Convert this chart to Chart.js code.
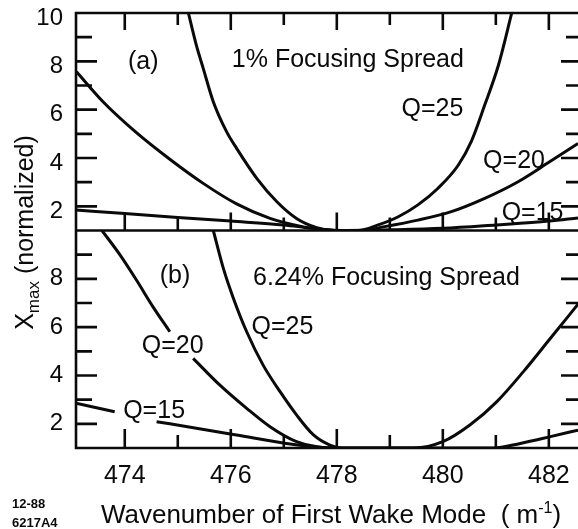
<!DOCTYPE html>
<html>
<head>
<meta charset="utf-8">
<script src="https://cdn.jsdelivr.net/npm/chart.js@4.4.0/dist/chart.umd.min.js"></script>
<style>
    html, body { margin: 0; padding: 0; background: #fff; }
</style>
</head>
<body>
<canvas id="myChart" width="578" height="529"></canvas>
<script>
// axis ranges and tick labels
var xMin = 473.08, xMax = 482.55;
var xTickValues = [474, 476, 478, 480, 482];
var yMin = 1, yMax = 10;
var yTicksA = [2, 4, 6, 8, 10];
var yTicksB = [2, 4, 6, 8];

// (a) 1% focusing spread -- wavenumber (1/m) and Xmax (normalized)
var a15Wave = [473.08, 474.0, 475.0, 476.0, 477.0, 477.5, 478.0, 479.0, 480.0, 481.0, 482.0, 482.55];
var a15Xmax = [1.85, 1.70, 1.54, 1.39, 1.23, 1.10, 1.00, 1.03, 1.09, 1.23, 1.39, 1.52];

var a20Wave = [473.09, 473.59, 474.22, 474.85, 475.48, 476.11, 476.74, 477.37, 477.75, 478.10, 478.46, 478.90, 479.53, 480.16, 480.79, 481.42, 482.00, 482.55];
var a20Xmax = [7.57, 6.33, 5.05, 3.95, 2.95, 2.10, 1.50, 1.15, 1.04, 1.00, 1.00, 1.16, 1.43, 1.78, 2.33, 3.02, 3.82, 4.60];

var a25Wave = [475.20, 475.35, 475.48, 475.67, 475.92, 476.11, 476.49, 476.87, 477.24, 477.62, 477.95, 478.40, 478.78, 479.16, 479.53, 479.91, 480.29, 480.54, 480.79, 481.05, 481.30];
var a25Xmax = [10.0, 8.67, 7.71, 6.33, 5.09, 4.40, 3.16, 2.19, 1.50, 1.12, 1.00, 1.00, 1.23, 1.57, 2.06, 2.75, 3.70, 4.70, 6.19, 7.85, 10.0];

// (b) 6.24% focusing spread (null = break in the line under a label)
var b15Wave = [473.08, 473.81, 474.20, 474.60, 475.35, 476.11, 477.05, 477.68, 478.00];
var b15Xmax = [2.85, 2.50, null, 2.09, 1.82, 1.54, 1.19, 1.03, 1.00];

var b20Wave = [473.57, 473.91, 474.22, 474.53, 474.85, 475.07, 475.29, 475.79, 476.30, 476.74, 477.24, 477.62, 477.90, 480.95, 481.46, 482.03, 482.55];
var b20Xmax = [10.0, 8.99, 7.95, 6.85, 5.81, null, 4.71, 3.61, 2.64, 1.88, 1.26, 1.05, 1.00, 1.00, 1.19, 1.47, 1.74];

var b25Wave = [475.67, 475.86, 476.05, 476.30, 476.61, 476.93, 477.24, 477.56, 477.87, 478.10, 479.45, 480.00, 480.51, 481.02, 481.52, 482.03, 482.55];
var b25Xmax = [10.0, 8.43, 7.19, 5.81, 4.43, 3.33, 2.37, 1.54, 1.12, 1.00, 1.00, 1.26, 1.95, 2.92, 4.16, 5.54, 6.95];

// text inside the panels, placed in data units
var notes = [
    { text: '(a)', wave: 474.06, xmax: 7.68, axis: 'yA' },
    { text: '1% Focusing Spread', wave: 476.02, xmax: 7.78, axis: 'yA' },
    { text: 'Q=25', wave: 479.22, xmax: 5.74, axis: 'yA' },
    { text: 'Q=20', wave: 480.76, xmax: 3.57, axis: 'yA' },
    { text: 'Q=15', wave: 481.11, xmax: 1.43, axis: 'yA' },
    { text: '(b)', wave: 474.66, xmax: 7.83, axis: 'yB' },
    { text: '6.24% Focusing Spread', wave: 476.42, xmax: 7.74, axis: 'yB' },
    { text: 'Q=25', wave: 476.39, xmax: 5.72, axis: 'yB' },
    { text: 'Q=20', wave: 474.32, xmax: 4.92, axis: 'yB' },
    { text: 'Q=15', wave: 473.97, xmax: 2.23, axis: 'yB' }
];

var FONT = '"Liberation Sans", Arial, Helvetica, sans-serif';
var INK = '#0a0a0a';

function toPoints(waves, vals) {
    return waves.map(function (w, i) { return { x: w, y: vals[i] }; });
}

function curve(label, waves, vals, axis) {
    return {
        label: label,
        data: toPoints(waves, vals),
        yAxisID: axis,
        borderColor: INK,
        borderWidth: 3,
        pointRadius: 0,
        cubicInterpolationMode: 'monotone',
        spanGaps: false,
        fill: false
    };
}

// label overhang would push the plot area around, so drop it
function noPadding(s) {
    s.paddingTop = 0; s.paddingBottom = 0; s.paddingLeft = 0; s.paddingRight = 0;
}

function yAxis(tickValues, offset) {
    return {
        type: 'linear',
        position: 'left',
        stack: 'panels',
        stackWeight: 1,
        min: yMin,
        max: yMax,
        grid: { display: false, drawTicks: false },
        border: { display: false },
        ticks: { font: { family: FONT, size: 24 }, color: INK, padding: 13, labelOffset: offset },
        afterBuildTicks: function (s) { s.ticks = tickValues.map(function (v) { return { value: v }; }); },
        afterFit: function (s) { s.width = 76; noPadding(s); }
    };
}

// frame, inward ticks, labels and axis titles
var framePlugin = {
    id: 'frame',
    afterDatasetsDraw: function (chart) {
        var ctx = chart.ctx;
        var x = chart.scales.x, ya = chart.scales.yA, yb = chart.scales.yB;
        var left = chart.chartArea.left, right = chart.chartArea.right;

        ctx.save();
        ctx.strokeStyle = INK;
        ctx.lineWidth = 2.6;
        ctx.beginPath();
        ctx.moveTo(left, ya.top - 1.3); ctx.lineTo(left, yb.bottom + 1.3);
        ctx.moveTo(left, ya.top); ctx.lineTo(right, ya.top);
        ctx.moveTo(left, ya.bottom); ctx.lineTo(right, ya.bottom);
        ctx.moveTo(left, yb.bottom); ctx.lineTo(right, yb.bottom);

        // x ticks: down from the top, up from each panel bottom
        for (var k = 474; k <= 482; k++) {
            var px = x.getPixelForValue(k);
            var major = k % 2 === 0;
            ctx.moveTo(px, ya.top); ctx.lineTo(px, ya.top + (major ? 17 : 12));
            ctx.moveTo(px, ya.bottom); ctx.lineTo(px, ya.bottom - (major ? 18 : 13));
            ctx.moveTo(px, yb.bottom); ctx.lineTo(px, yb.bottom - (major ? 19 : 13));
        }
        // y ticks on both sides of each panel
        [ya, yb].forEach(function (s) {
            for (var v = 2; v <= 9; v++) {
                var py = s.getPixelForValue(v);
                var maj = v % 2 === 0;
                ctx.moveTo(left, py); ctx.lineTo(left + (maj ? 21 : 16), py);
                ctx.moveTo(right, py); ctx.lineTo(right - (maj ? 17 : 12), py);
            }
        });
        ctx.stroke();

        // panel texts
        ctx.fillStyle = INK;
        ctx.textAlign = 'left';
        ctx.textBaseline = 'alphabetic';
        ctx.font = '25px ' + FONT;
        notes.forEach(function (n) {
            ctx.fillText(n.text, x.getPixelForValue(n.wave), chart.scales[n.axis].getPixelForValue(n.xmax));
        });

        // x axis title with superscript
        var big = '26px ' + FONT, small = '16px ' + FONT;
        var parts = [
            { t: 'Wavenumber of First Wake Mode  ( m', f: big, dy: 0 },
            { t: '-1', f: small, dy: -10 },
            { t: ')', f: big, dy: 0 }
        ];
        var total = 0;
        parts.forEach(function (p) { ctx.font = p.f; p.w = ctx.measureText(p.t).width; total += p.w; });
        var tx = (left + right) / 2 + 4 - total / 2;
        parts.forEach(function (p) {
            ctx.font = p.f;
            ctx.fillText(p.t, tx, 523 + p.dy);
            tx += p.w;
        });

        // y axis title: X with subscript "max"
        var ybig = '25px ' + FONT, ysmall = '17px ' + FONT;
        var cy = (chart.chartArea.top + chart.chartArea.bottom) / 2 + 2;
        ctx.font = ybig;
        var w1 = ctx.measureText('X').width;
        var w3 = ctx.measureText(' (normalized)').width;
        ctx.font = ysmall;
        var w2 = ctx.measureText('max').width;
        ctx.translate(33, cy + (w1 + w2 + w3) / 2);
        ctx.rotate(-Math.PI / 2);
        ctx.font = ybig;
        ctx.fillText('X', 0, 0);
        ctx.font = ysmall;
        ctx.fillText('max', w1, 6);
        ctx.font = ybig;
        ctx.fillText(' (normalized)', w1 + w2, 0);
        ctx.restore();

        // figure id in the corner
        ctx.save();
        ctx.fillStyle = INK;
        ctx.font = 'bold 13px ' + FONT;
        ctx.fillText('12-88', 12, 508);
        ctx.fillText('6217A4', 12, 527);
        ctx.restore();
    }
};

var ctx = document.getElementById('myChart').getContext('2d');

var chart = new Chart(ctx, {
    type: 'line',
    data: {
        datasets: [
            curve('(a) Q=15', a15Wave, a15Xmax, 'yA'),
            curve('(a) Q=20', a20Wave, a20Xmax, 'yA'),
            curve('(a) Q=25', a25Wave, a25Xmax, 'yA'),
            curve('(b) Q=15', b15Wave, b15Xmax, 'yB'),
            curve('(b) Q=20', b20Wave, b20Xmax, 'yB'),
            curve('(b) Q=25', b25Wave, b25Xmax, 'yB')
        ]
    },
    options: {
        responsive: false,
        animation: false,
        layout: { padding: { top: 13, left: 0, right: 0, bottom: 0 } },
        plugins: {
            legend: { display: false },
            tooltip: { enabled: false }
        },
        scales: {
            x: {
                type: 'linear',
                min: xMin,
                max: xMax,
                grid: { display: false, drawTicks: false },
                border: { display: false },
                ticks: { font: { family: FONT, size: 25 }, color: INK, padding: 13, maxRotation: 0, autoSkip: false },
                afterBuildTicks: function (s) { s.ticks = xTickValues.map(function (v) { return { value: v }; }); },
                afterFit: function (s) { s.height = 81; noPadding(s); }
            },
            yB: yAxis(yTicksB, 0),
            yA: yAxis(yTicksA, 5)
        }
    },
    plugins: [framePlugin]
});
</script>
</body>
</html>
